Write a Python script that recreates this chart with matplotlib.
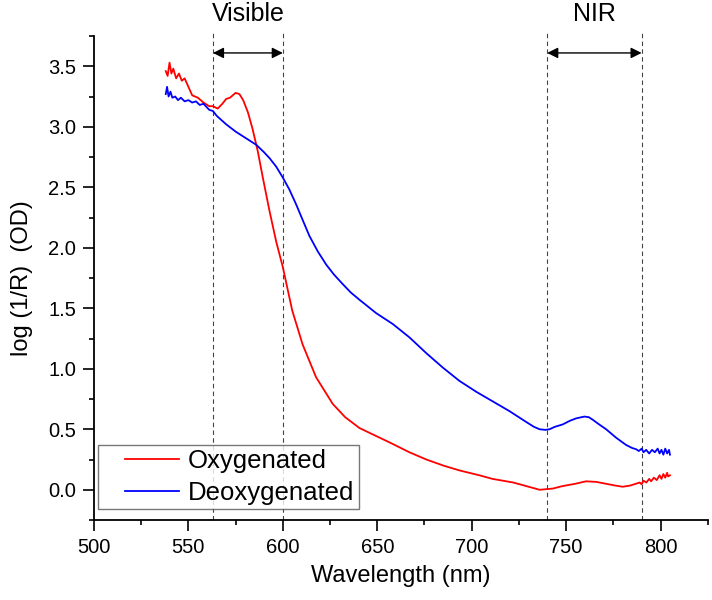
import matplotlib
matplotlib.use('Agg')
import matplotlib.pyplot as plt
from matplotlib.lines import Line2D
from matplotlib.legend_handler import HandlerLine2D
from matplotlib.ticker import MultipleLocator, FormatStrFormatter

plt.rcParams['font.family'] = ['Liberation Sans', 'DejaVu Sans']

# Oxigenada (rojo)
wl_oxy = [538, 539, 540, 541, 542, 543.5, 545, 546.5, 548, 550, 552, 555, 558,
          561, 563, 565.5, 568, 570, 572, 575, 577, 579, 581.5, 584, 586.7,
          589.4, 593, 596.5, 600, 605, 610.5, 617.6, 626.4, 633, 640.6, 650,
          658, 667, 676, 685, 693.5, 704, 711, 722, 729, 736, 743, 748, 755,
          760.6, 766, 771, 776, 780, 784, 787, 789, 790, 791, 792.5, 794, 795,
          796.5, 798, 799.5, 800.5, 801.5, 802.5, 803.5, 804, 805]
od_oxy = [3.46, 3.42, 3.53, 3.44, 3.48, 3.40, 3.44, 3.38, 3.40, 3.33, 3.26,
          3.24, 3.20, 3.17, 3.17, 3.15, 3.19, 3.23, 3.24, 3.28, 3.27, 3.22,
          3.12, 2.98, 2.80, 2.58, 2.30, 2.05, 1.84, 1.48, 1.20, 0.93, 0.71,
          0.60, 0.51, 0.44, 0.38, 0.31, 0.25, 0.20, 0.16, 0.12, 0.09, 0.06,
          0.03, 0.00, 0.01, 0.03, 0.05, 0.07, 0.065, 0.05, 0.035, 0.025,
          0.035, 0.05, 0.06, 0.045, 0.075, 0.06, 0.09, 0.07, 0.10, 0.08,
          0.12, 0.09, 0.13, 0.10, 0.14, 0.11, 0.12]

# Desoxigenada (azul)
wl_deoxy = [538, 538.7, 539.5, 540.5, 541.5, 543, 544.5, 546, 548, 550, 552,
            554, 556, 558, 561, 563, 565, 570, 575, 579, 583, 586, 590, 593,
            596.5, 600, 603.5, 607, 610.5, 614, 618.5, 623, 627, 631.7, 636,
            640.6, 649.4, 658.2, 667, 675.9, 684.7, 693.5, 702.4, 711.2, 720,
            728.9, 733, 736, 739, 741.2, 744, 748.2, 752, 755.3, 759.7, 762,
            764, 767.5, 771.2, 776.5, 781.8, 785, 787.1, 788.5, 790, 791,
            792.4, 794, 795.5, 797, 798.5, 799.5, 800.5, 801.5, 802.5, 803.5,
            804.5, 805]
od_deoxy = [3.27, 3.33, 3.25, 3.29, 3.24, 3.25, 3.22, 3.24, 3.21, 3.22, 3.20,
            3.21, 3.18, 3.19, 3.14, 3.13, 3.09, 3.02, 2.96, 2.92, 2.88, 2.85,
            2.79, 2.74, 2.67, 2.58, 2.48, 2.36, 2.23, 2.10, 1.97, 1.86, 1.78,
            1.70, 1.63, 1.57, 1.46, 1.37, 1.26, 1.13, 1.01, 0.90, 0.81, 0.73,
            0.65, 0.56, 0.52, 0.50, 0.495, 0.50, 0.52, 0.54, 0.57, 0.59, 0.605,
            0.60, 0.58, 0.54, 0.50, 0.43, 0.37, 0.345, 0.335, 0.32, 0.34, 0.31,
            0.33, 0.30, 0.33, 0.31, 0.34, 0.30, 0.33, 0.29, 0.34, 0.30, 0.33,
            0.29]

# Rangos espectrales
regiones = [('Visible', 563, 600), ('NIR', 740, 790)]

fig = plt.figure(figsize=(7.12, 6), dpi=100)
ax = fig.add_axes([0.1320, 0.1333, 0.862, 0.8067])

ax.plot(wl_oxy, od_oxy, color='#ff0000', lw=1.3, label='Oxygenated')
ax.plot(wl_deoxy, od_deoxy, color='#0000ff', lw=1.3, label='Deoxygenated')

ax.set_xlim(500, 825)
ax.set_ylim(-0.25, 3.75)

for nombre, x0, x1 in regiones:
    for x in (x0, x1):
        ax.plot([x, x], [-0.25, 3.8], color='#444444', lw=0.8,
                ls=(0, (4, 3)), clip_on=False, zorder=1)
    ax.annotate('', xy=(x0, 3.61), xytext=(x1, 3.61),
                arrowprops=dict(arrowstyle='<|-|>', color='black', lw=1.0,
                                mutation_scale=16, shrinkA=0, shrinkB=0),
                annotation_clip=False)
    ax.text((x0 + x1) / 2, 3.877, nombre, ha='center', va='baseline',
            fontsize=18, clip_on=False)

ax.spines['top'].set_visible(False)
ax.spines['right'].set_visible(False)
for s in ('left', 'bottom'):
    ax.spines[s].set_linewidth(1.3)

ax.xaxis.set_major_locator(MultipleLocator(50))
ax.xaxis.set_minor_locator(MultipleLocator(25))
ax.yaxis.set_major_locator(MultipleLocator(0.5))
ax.yaxis.set_minor_locator(MultipleLocator(0.25))
ax.yaxis.set_major_formatter(FormatStrFormatter('%.1f'))
ax.set_yticks([0, 0.5, 1.0, 1.5, 2.0, 2.5, 3.0, 3.5])
ax.tick_params(which='major', direction='out', length=8, width=1.2,
               labelsize=14.5, pad=5)
ax.tick_params(which='minor', direction='out', length=3.5, width=1.2)

ax.set_xlabel('Wavelength (nm)', fontsize=17, labelpad=6)
ax.set_ylabel('log (1/R)  (OD)', fontsize=17, labelpad=11)

leg = ax.legend(loc='lower left', bbox_to_anchor=(0.0065, 0.023),
                fontsize=18.5, frameon=True, fancybox=False,
                handlelength=3.0, borderpad=0.16, labelspacing=0.3,
                handletextpad=0.35, borderaxespad=0,
                handler_map={Line2D: HandlerLine2D(xpad=0.9)})
leg.get_frame().set_edgecolor('#555555')
leg.get_frame().set_linewidth(1.0)

plt.savefig('out.png', dpi=100)
